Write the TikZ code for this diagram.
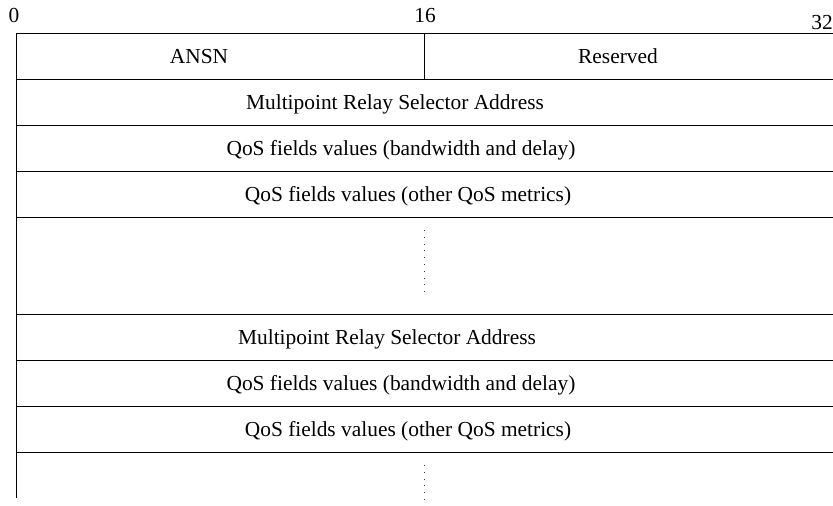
\documentclass[tikz,border=0pt]{standalone}
\usepackage{fontspec}
\setmainfont{Liberation Serif}
\begin{document}
\begin{tikzpicture}[x=1pt,y=-1pt,
  rule/.style={line width=1pt,black},
  dotline/.style={line width=1pt,dash pattern=on 1pt off 5.8pt,black!80},
  lbl/.style={inner sep=0pt,anchor=base,font=\fontsize{21.4}{24}\selectfont}]
\useasboundingbox (0,0) rectangle (833,506);
% bit position labels
\node[lbl] (b0)  at (14,22)  {0};
\node[lbl] (b16) at (425,22) {16};
\node[lbl] (b32) at (822,29) {32};
% frame
\coordinate (tl) at (16,33);
\coordinate (tr) at (833,33);
\coordinate (bl) at (16,498);
\draw[rule] (tl) -- (tr);
\draw[rule] (tl) -- (bl);
\foreach \y in {79,125,171,217,314,360,406,452}
  \draw[rule] (16,\y) -- (833,\y);
\coordinate (d1) at (424,33);
\coordinate (d2) at (424,79);
\draw[rule] (d1) -- (d2);
% fields
\node[lbl] (ansn) at (199,63) {ANSN};
\node[lbl] (res)  at (618,63) {Reserved};
\node[lbl] (mpr1) at (395,109) {Multipoint Relay Selector Address};
\node[lbl] (qb1)  at (401,155) {QoS fields values (bandwidth and delay)};
\node[lbl] (qo1)  at (408,201) {QoS fields values (other QoS metrics)};
\node[lbl] (mpr2) at (387,344) {Multipoint Relay Selector Address};
\node[lbl] (qb2)  at (401,390) {QoS fields values (bandwidth and delay)};
\node[lbl] (qo2)  at (408,436) {QoS fields values (other QoS metrics)};
% continuation dots
\coordinate (v1a) at (424,230);
\coordinate (v1b) at (424,293);
\coordinate (v2a) at (424,465);
\coordinate (v2b) at (424,506);
\draw[dotline] (v1a) -- (v1b);
\draw[dotline] (v2a) -- (v2b);
\end{tikzpicture}
\end{document}
